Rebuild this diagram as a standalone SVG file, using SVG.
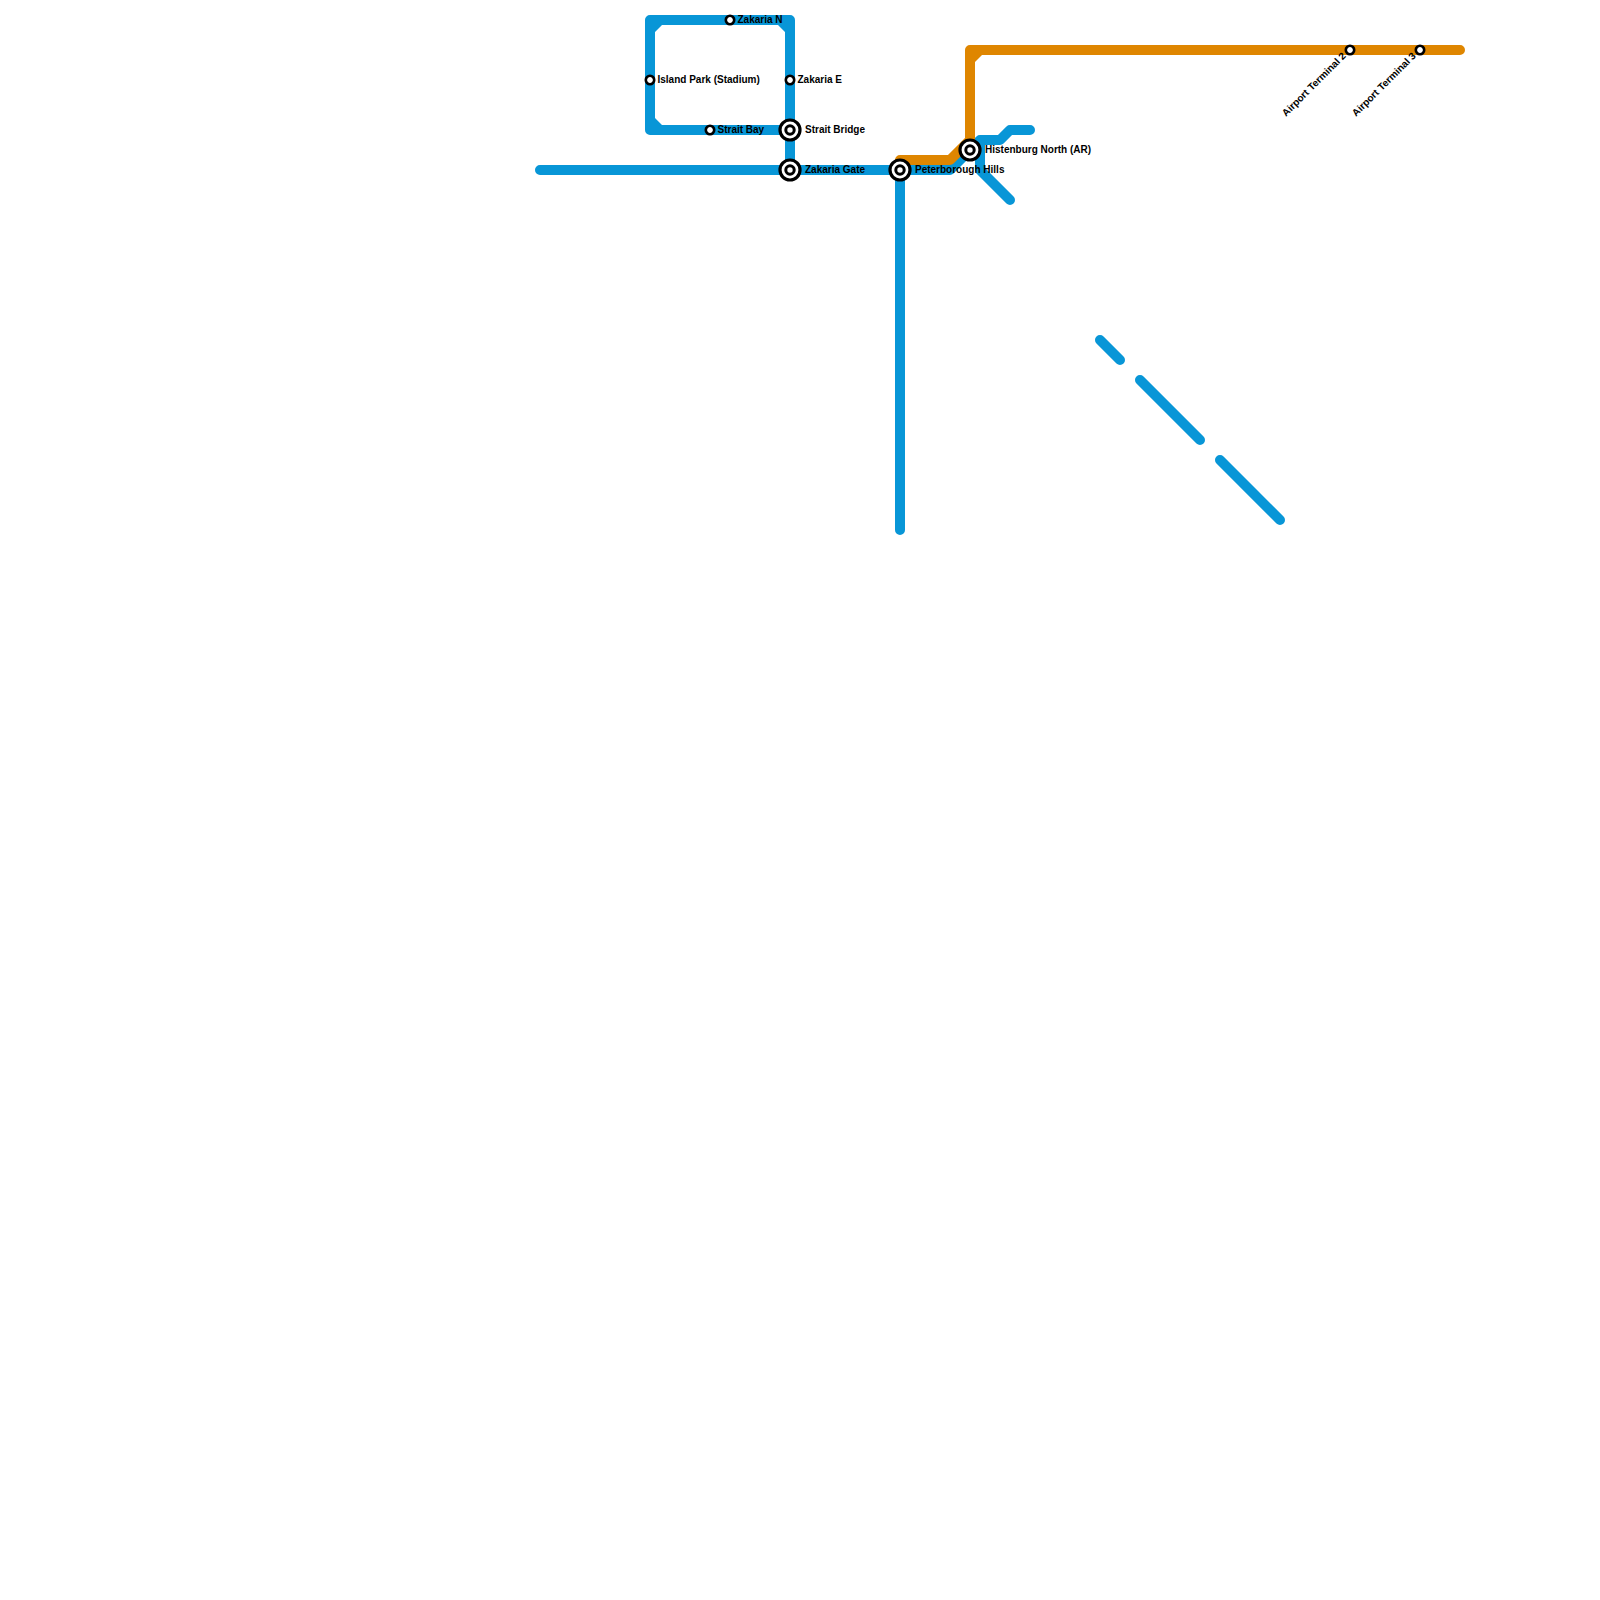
<svg xmlns="http://www.w3.org/2000/svg" width="1600" height="1600" viewBox="0 0 1600 1600">
<style>
.line{fill:none;stroke-width:10;stroke-linecap:round;stroke-linejoin:round}
.blue{stroke:#0896d7}
.orange{stroke:#df8600}
.fb{fill:#0896d7}
.fo{fill:#df8600}
.s{fill:#fff;stroke:#000;stroke-width:2.6}
.t{font-family:"Liberation Sans",Arial,sans-serif;font-size:10px;font-weight:700;fill:#000}
</style>
<defs>
<g id="interchange"><circle r="10" fill="#fff" stroke="#000" stroke-width="3.2"/><circle r="4.2" fill="#fff" stroke="#000" stroke-width="3"/></g>
<circle id="stop" r="4.2" class="s"/>
</defs>
<rect width="1600" height="1600" fill="#fff"/>
<g id="connectors">
<path class="line blue" d="M540 170H900M650 20H790V170M650 20V130H790M900 170V530M900 170H950L970 150M970 150L980 140H1000L1010 130H1030M980 140V170L1010 200M1100 340L1120 360M1140 380L1200 440M1220 460L1280 520"/>
<path class="fb" d="M655 25H662L655 32ZM785 25H778L785 32ZM655 125H662L655 118Z"/>
<path class="line orange" d="M900 160H950L970 140V50H1460"/>
<path class="fo" d="M975 55H982L975 62Z"/>
</g>
<g id="zakaria-n"><use href="#stop" x="730" y="20"/><text class="t" x="737.5" y="23">Zakaria N</text></g>
<g id="island-park"><use href="#stop" x="650" y="80"/><text class="t" x="657.5" y="83">Island Park (Stadium)</text></g>
<g id="zakaria-e"><use href="#stop" x="790" y="80"/><text class="t" x="797.5" y="83">Zakaria E</text></g>
<g id="strait-bay"><use href="#stop" x="710" y="130"/><text class="t" x="717.5" y="133">Strait Bay</text></g>
<g id="strait-bridge"><use href="#interchange" x="790" y="130"/><text class="t" x="805" y="133">Strait Bridge</text></g>
<g id="zakaria-gate"><use href="#interchange" x="790" y="170"/><text class="t" x="805" y="172.6">Zakaria Gate</text></g>
<g id="peterborough-hills"><use href="#interchange" x="900" y="170"/><text class="t" x="915" y="172.6">Peterborough Hills</text></g>
<g id="histenburg-north"><use href="#interchange" x="970" y="150"/><text class="t" x="985" y="152.6">Histenburg North (AR)</text></g>
<g id="airport-terminal-2"><use href="#stop" x="1350" y="50"/><text class="t" transform="translate(1346.5 56.5) rotate(-45)" text-anchor="end">Airport Terminal 2</text></g>
<g id="airport-terminal-3"><use href="#stop" x="1420" y="50"/><text class="t" transform="translate(1416.5 56.5) rotate(-45)" text-anchor="end">Airport Terminal 3</text></g>
</svg>
